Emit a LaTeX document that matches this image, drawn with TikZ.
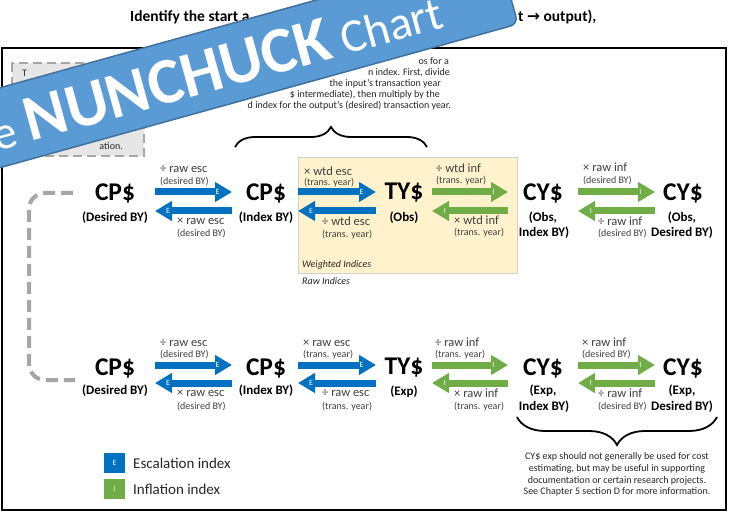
\documentclass[tikz,border=0pt]{standalone}
\usepackage{fontspec}
\setmainfont{Carlito}
\newfontfamily\symfont{DejaVu Sans}
\usetikzlibrary{arrows.meta,decorations.pathreplacing}

\definecolor{escblue}{HTML}{0070C0}
\definecolor{infgreen}{HTML}{70AD47}
\definecolor{bannerblue}{HTML}{5B9BD5}
\definecolor{bannerline}{HTML}{41719C}
\definecolor{wtdfill}{HTML}{FFF2CC}
\definecolor{wtdline}{HTML}{D0D0D0}
\definecolor{dashgray}{HTML}{A6A6A6}
\definecolor{notefill}{HTML}{E7E6E6}
\definecolor{labelgray}{HTML}{404040}
\definecolor{bodytext}{HTML}{262626}

% a pair of opposite block arrows with the index letter in each head
\newcommand\twoway[7]{%
  \draw[#1] (#3,#5) -- (#4,#5);
  \draw[#1] (#4,#6) -- (#3,#6);
  \node[tipletter] (#7r) at ({#4-14.5},#5) {#2};
  \node[tipletter] (#7l) at ({#3+13},#6) {#2};
}

\begin{document}
\begin{tikzpicture}[x=1pt,y=-1pt,
  bigcur/.style={font=\bfseries\fontsize{25.5}{30}\selectfont, inner sep=0pt},
  subcur/.style={font=\bfseries\fontsize{13}{15}\selectfont, inner sep=0pt},
  oplab/.style={font=\fontsize{12.5}{14}\selectfont, text=labelgray, inner sep=0pt, anchor=west},
  yrlab/.style={font=\fontsize{10}{12}\selectfont, text=labelgray, inner sep=0pt, anchor=west},
  escarrow/.style={draw=escblue, line width=7pt, -{Triangle[length=17pt,width=19pt]}},
  infarrow/.style={draw=infgreen, line width=7pt, -{Triangle[length=17pt,width=19pt]}},
  tipletter/.style={font=\fontsize{8}{9}\selectfont, text=white, inner sep=0pt},
  titletext/.style={font=\bfseries\fontsize{15.5}{18}\selectfont, inner sep=0pt},
  parafrag/.style={font=\fontsize{10}{12}\selectfont, text=bodytext, inner sep=0pt, anchor=east},
  notebox/.style={draw=dashgray, fill=notefill, line width=2pt, dash pattern=on 9pt off 5pt},
  wtdbox/.style={draw=wtdline, fill=wtdfill, line width=0.8pt},
  boxcaption/.style={font=\itshape\fontsize{10}{12}\selectfont, text=bodytext, inner sep=0pt, anchor=west},
  bracestyle/.style={draw=black, line width=1.8pt, decorate},
  linkdash/.style={draw=dashgray, line width=4pt, dash pattern=on 12pt off 6pt, rounded corners=16pt},
  legendkey/.style={minimum width=21pt, minimum height=20pt, inner sep=0pt, text=white, font=\fontsize{8}{9}\selectfont},
  legendtext/.style={font=\fontsize{15}{18}\selectfont, text=bodytext, inner sep=0pt, anchor=west},
  bannerstyle/.style={draw=bannerline, fill=bannerblue, line width=1.5pt, rounded corners=8pt},
  bannertext/.style={text=white, font=\fontsize{47}{50}\selectfont, inner sep=0pt, transform shape}
]
\useasboundingbox (0,0) rectangle (731,513);
\clip (0,0) rectangle (731,513);
\fill[white] (0,0) rectangle (731,513);

% heading and outer frame
\node[titletext, anchor=base west] (ttlA) at (130,22) {Identify the start a};
\node[titletext, anchor=base west] (ttlB) at (518,22) {t {\symfont →} output),};
\draw[line width=1.5pt] (2,48) rectangle (726,510);

% note box, top left
\draw[notebox] (12,63) rectangle (144,156);
\node[font=\fontsize{10}{12}\selectfont, text=bodytext, inner sep=0pt, anchor=west] (noteA) at (22,73) {T};
\node[font=\fontsize{10}{12}\selectfont, text=bodytext, inner sep=0pt, anchor=east] (noteB) at (123,146) {ation.};

% explanation above the weighted block
\node[parafrag] (pa1) at (449,61) {os for a};
\node[parafrag] (pa2) at (450,73) {n index. First, divide};
\node[parafrag] (pa3) at (441,84) {the input’s transaction year};
\node[parafrag] (pa4) at (440,95) {\$ intermediate), then multiply by the};
\node[parafrag] (pa5) at (451,106) {d index for the output’s (desired) transaction year.};
\draw[bracestyle, decoration={brace, amplitude=20pt}] (235,147) -- (427,147);

% weighted-index block
\draw[wtdbox] (298,157) rectangle (517,273);
\node[boxcaption] (wcap) at (302,265) {Weighted Indices};
\node[boxcaption] (rcap) at (302,281) {Raw Indices};

% upper row: observed
\node[bigcur] (cpA1) at (115,193) {CP\$};
\node[subcur] (cpA1s) at (115,218) {(Desired BY)};
\node[bigcur] (cpB1) at (266,193) {CP\$};
\node[subcur] (cpB1s) at (266,218) {(Index BY)};
\node[bigcur] (tyO) at (404,193) {TY\$};
\node[subcur] (tyOs) at (404,218) {(Obs)};
\node[bigcur] (cyOI) at (543,193) {CY\$};
\node[subcur] (cyOIa) at (543,218) {(Obs,};
\node[subcur] (cyOIb) at (544,233) {Index BY)};
\node[bigcur] (cyOD) at (683,193) {CY\$};
\node[subcur] (cyODa) at (682,218) {(Obs,};
\node[subcur] (cyODb) at (682,233) {Desired BY)};

% lower row: expenditure
\node[bigcur] (cpA2) at (115,368) {CP\$};
\node[subcur] (cpA2s) at (115,391) {(Desired BY)};
\node[bigcur] (cpB2) at (266,368) {CP\$};
\node[subcur] (cpB2s) at (266,391) {(Index BY)};
\node[bigcur] (tyE) at (404,368) {TY\$};
\node[subcur] (tyEs) at (404,392) {(Exp)};
\node[bigcur] (cyEI) at (543,368) {CY\$};
\node[subcur] (cyEIa) at (543,391) {(Exp,};
\node[subcur] (cyEIb) at (544,407) {Index BY)};
\node[bigcur] (cyED) at (683,368) {CY\$};
\node[subcur] (cyEDa) at (682,391) {(Exp,};
\node[subcur] (cyEDb) at (682,407) {Desired BY)};

% conversion arrows
\twoway{escarrow}{E}{155}{232}{192}{211}{ea}
\twoway{escarrow}{E}{298}{376}{192}{211}{eb}
\twoway{infarrow}{I}{432}{508}{192}{211}{ia}
\twoway{infarrow}{I}{578}{655}{192}{211}{ib}
\twoway{escarrow}{E}{155}{232}{365}{383}{ec}
\twoway{escarrow}{E}{298}{376}{365}{383}{ed}
\twoway{infarrow}{I}{432}{508}{365}{383}{ic}
\twoway{infarrow}{I}{578}{655}{365}{383}{id}

% arrow labels, upper row
\node[oplab] (u1) at (160,169) {÷ raw esc};
\node[yrlab] (u2) at (160,182) {(desired BY)};
\node[oplab] (u3) at (177,221) {× raw esc};
\node[yrlab] (u4) at (177,234) {(desired BY)};
\node[oplab] (u5) at (304,171) {× wtd esc};
\node[yrlab] (u6) at (304,183) {(trans. year)};
\node[oplab] (u7) at (322,221) {÷ wtd esc};
\node[yrlab] (u8) at (322,235) {(trans. year)};
\node[oplab] (u9) at (436,168) {÷ wtd inf};
\node[yrlab] (u10) at (436,181) {(trans. year)};
\node[oplab] (u11) at (454,220) {× wtd inf};
\node[yrlab] (u12) at (454,233) {(trans. year)};
\node[oplab] (u13) at (583,167) {× raw inf};
\node[yrlab] (u14) at (583,181) {(desired BY)};
\node[oplab] (u15) at (598,221) {÷ raw inf};
\node[yrlab] (u16) at (598,234) {(desired BY)};

% arrow labels, lower row
\node[oplab] (d1) at (160,343) {÷ raw esc};
\node[yrlab] (d2) at (160,355) {(desired BY)};
\node[oplab] (d3) at (177,393) {× raw esc};
\node[yrlab] (d4) at (177,407) {(desired BY)};
\node[oplab] (d5) at (303,343) {× raw esc};
\node[yrlab] (d6) at (303,355) {(trans. year)};
\node[oplab] (d7) at (322,393) {÷ raw esc};
\node[yrlab] (d8) at (322,407) {(trans. year)};
\node[oplab] (d9) at (435,342) {÷ raw inf};
\node[yrlab] (d10) at (435,355) {(trans. year)};
\node[oplab] (d11) at (454,393) {× raw inf};
\node[yrlab] (d12) at (454,407) {(trans. year)};
\node[oplab] (d13) at (582,342) {× raw inf};
\node[yrlab] (d14) at (582,355) {(desired BY)};
\node[oplab] (d15) at (598,393) {÷ raw inf};
\node[yrlab] (d16) at (598,407) {(desired BY)};

% dashed link between the two desired-BY constant-dollar nodes
\coordinate (lkA) at (73,193);
\coordinate (lkB) at (75,380);
\draw[linkdash] (lkA) -- (29,193) -- (29,380) -- (lkB);

% note under the expenditure CY$ pair
\draw[bracestyle, decoration={brace, amplitude=28pt}] (717,417) -- (517,417);
\node[font=\fontsize{10}{11.7}\selectfont, text=bodytext, align=center, inner sep=0pt] (cynote) at (617,474.5)
  {CY\$ exp should not generally be used for cost\\estimating, but may be useful in supporting\\documentation or certain research projects.\\See Chapter 5 section D for more information.};

% legend
\node[legendkey, fill=escblue] (keyE) at (114.5,463) {E};
\node[legendtext] (keyEt) at (133,463) {Escalation index};
\node[legendkey, fill=infgreen] (keyI) at (114.5,488.5) {I};
\node[legendtext] (keyIt) at (133,489) {Inflation index};

% title banner laid across the top left
\begin{scope}[shift={(507.7,-13.1)}, rotate=15.5]
  \draw[bannerstyle] (-900,-38.5) rectangle (0,38.5);
  \node[bannertext, anchor=base east] (banner) at (-70,22)
    {The {\fontsize{65}{68}\selectfont\bfseries NUNCHUCK} Chart};
\end{scope}
\end{tikzpicture}
\end{document}
